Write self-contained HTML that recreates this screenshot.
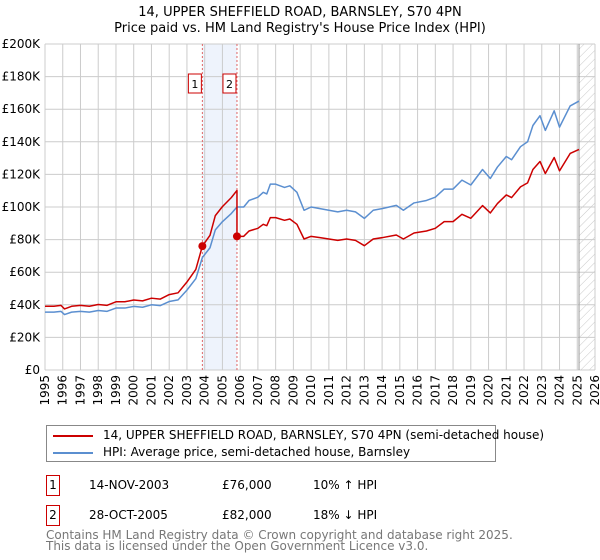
<!DOCTYPE html>
<html><head><meta charset="utf-8">
<style>
body{margin:0;background:#fff;font-family:"Liberation Sans","DejaVu Sans",sans-serif;}
#wrap{position:relative;width:600px;height:560px;overflow:hidden;}
.t{font-family:"DejaVu Sans","Liberation Sans",sans-serif;}
</style></head>
<body>
<div id="wrap">
<svg id="chart" width="600" height="560" xmlns="http://www.w3.org/2000/svg" font-family="DejaVu Sans, Liberation Sans, sans-serif">
<defs>
<pattern id="hatch" width="6" height="6" patternUnits="userSpaceOnUse" patternTransform="rotate(45)">
<line x1="0" y1="0" x2="0" y2="6" stroke="#bbb" stroke-width="0.8"/>
</pattern>
</defs>
<text x="300" y="16" text-anchor="middle" font-size="13" fill="#000">14, UPPER SHEFFIELD ROAD, BARNSLEY, S70 4PN</text>
<text x="300" y="32" text-anchor="middle" font-size="13" fill="#000">Price paid vs. HM Land Registry's House Price Index (HPI)</text>
<g id="grid"></g>
<g id="marks"></g>
<g id="axes"></g>
</svg>
<div style="position:absolute;left:46px;top:425px;width:448px;height:35px;border:1px solid #888;font-size:12px;" class="t">
 <div style="position:absolute;left:6px;top:2px;white-space:nowrap;"><span style="display:inline-block;width:40px;height:2px;background:#cc0000;vertical-align:middle;margin-right:10px;"></span>14, UPPER SHEFFIELD ROAD, BARNSLEY, S70 4PN (semi-detached house)</div>
 <div style="position:absolute;left:6px;top:19px;white-space:nowrap;"><span style="display:inline-block;width:40px;height:2px;background:#5b8fd0;vertical-align:middle;margin-right:10px;"></span>HPI: Average price, semi-detached house, Barnsley</div>
</div>
<div class="t" style="font-size:12px;">
 <div style="position:absolute;left:46px;top:475px;width:12px;height:19px;border:1px solid #cc0000;text-align:center;line-height:19px;">1</div>
 <div style="position:absolute;left:89px;top:478px;">14-NOV-2003</div>
 <div style="position:absolute;left:222px;top:478px;">£76,000</div>
 <div style="position:absolute;left:313px;top:478px;">10% ↑ HPI</div>
 <div style="position:absolute;left:46px;top:505px;width:12px;height:19px;border:1px solid #cc0000;text-align:center;line-height:19px;">2</div>
 <div style="position:absolute;left:89px;top:508px;">28-OCT-2005</div>
 <div style="position:absolute;left:222px;top:508px;">£82,000</div>
 <div style="position:absolute;left:313px;top:508px;">18% ↓ HPI</div>
 <div style="position:absolute;left:46px;top:530px;color:#777;line-height:11px;">Contains HM Land Registry data © Crown copyright and database right 2025.<br>This data is licensed under the Open Government Licence v3.0.</div>
</div>
</div>
<script>
const hpiYears=[1995,1995.5,1995.9,1996.1,1996.5,1997,1997.5,1998,1998.5,1999,1999.5,2000,2000.5,2001,2001.5,2002,2002.5,2003,2003.5,2003.87,2004.3,2004.6,2005,2005.5,2005.82,2006.2,2006.5,2007,2007.3,2007.5,2007.7,2008,2008.5,2008.8,2009.2,2009.6,2010,2010.5,2011,2011.5,2012,2012.5,2013,2013.5,2014,2014.8,2015.2,2015.8,2016.5,2017,2017.5,2018,2018.5,2019,2019.66,2020.1,2020.5,2021,2021.3,2021.8,2022.2,2022.5,2022.9,2023.2,2023.7,2024.0,2024.6,2025.1];
const hpiValues=[35.5,35.5,36,34,35.5,36,35.5,36.5,36,38,38,39,38.5,40,39.5,42,43,49,56,69,75,86,91,96,100,100,104,106,109,108,114,114,112,113,109,98,100,99,98,97,98,97,93,98,99,101,98,102.5,104,106,111,111,116.5,113.5,123,117.5,124.5,131,129,137,140,150,156,147,159,149,162,165];
const saleYears=[2003.87,2005.82];
const salePrices=[76,82];
const yTicks=[0,20,40,60,80,100,120,140,160,180,200];
const yTickLabels=["£0","£20K","£40K","£60K","£80K","£100K","£120K","£140K","£160K","£180K","£200K"];
const xTicks=[1995,1996,1997,1998,1999,2000,2001,2002,2003,2004,2005,2006,2007,2008,2009,2010,2011,2012,2013,2014,2015,2016,2017,2018,2019,2020,2021,2022,2023,2024,2025,2026];

const L=45,R=595,T=44,B=370,X0=1995,X1=2026,YMAX=200;
const xs=y=>L+(y-X0)/(X1-X0)*(R-L);
const ys=v=>B-v/YMAX*(B-T);
const NS="http://www.w3.org/2000/svg";
function mk(tag,attrs,parent){const e=document.createElementNS(NS,tag);for(const k in attrs)e.setAttribute(k,attrs[k]);parent.appendChild(e);return e;}
const grid=document.getElementById('grid'),marks=document.getElementById('marks'),axes=document.getElementById('axes');

// shaded band between sales
let band=mk('rect',{x:xs(saleYears[0]),y:T,width:xs(saleYears[1])-xs(saleYears[0]),height:B-T,fill:'#eef3fc'},grid);


// hatch future
const lastY=hpiYears[hpiYears.length-1];
let hat=mk('rect',{x:xs(lastY),y:T,width:R-xs(lastY),height:B-T,fill:'url(#hatch)'},grid);



yTicks.forEach((v,i)=>{
 let g=mk('line',{x1:L,x2:R,y1:ys(v),y2:ys(v),stroke:'#cccccc','stroke-width':1},grid);
 
 
 let t=mk('text',{x:L-5,y:ys(v)+4,'text-anchor':'end','font-size':12,fill:'#000'},axes);
 t.textContent=yTickLabels[i];
 
 
});
xTicks.forEach(y=>{
 let g=mk('line',{x1:xs(y),x2:xs(y),y1:T,y2:B,stroke:'#cccccc','stroke-width':1},grid);
 
 
 let t=mk('text',{x:0,y:0,'text-anchor':'end','font-size':12,fill:'#000',transform:`translate(${xs(y)+4},${B+5}) rotate(-90)`},axes);
 t.textContent=y;
 
 
});
let vl=mk('line',{x1:xs(lastY),x2:xs(lastY),y1:T,y2:B,stroke:'#999','stroke-width':1},grid);



// sale markers lines
saleYears.forEach((sy,i)=>{
 let l=mk('line',{x1:xs(sy),x2:xs(sy),y1:T,y2:B,stroke:'#e06666','stroke-width':1,'stroke-dasharray':'2,2'},marks);
 
 
 let bx=mk('rect',{x:xs(sy)-14,y:74,width:13,height:19,fill:'#fff',stroke:'#cc0000','stroke-width':1},marks);
 
 
 let t=mk('text',{x:xs(sy)-7.5,y:88,'text-anchor':'middle','font-size':11,fill:'#000'},marks);
 t.textContent=String(i+1);
 
 
});

function hpiAt(y){for(let i=1;i<hpiYears.length;i++){if(y<=hpiYears[i]){const f=(y-hpiYears[i-1])/(hpiYears[i]-hpiYears[i-1]);return hpiValues[i-1]+f*(hpiValues[i]-hpiValues[i-1]);}}return hpiValues[hpiValues.length-1];}
// property series: HPI indexed to each sale
const r1=salePrices[0]/hpiAt(saleYears[0]),r2=salePrices[1]/hpiAt(saleYears[1]);
let rp=[];
hpiYears.forEach((y,i)=>{
 if(y<saleYears[1]) rp.push([xs(y),ys(hpiValues[i]*r1)]);
 else { if(y===saleYears[1]) rp.push([xs(y),ys(hpiValues[i]*r1)]); rp.push([xs(y),ys(hpiValues[i]*r2)]); }
});
let hp=hpiYears.map((y,i)=>[xs(y),ys(hpiValues[i])]);
let ph=mk('polyline',{points:hp.map(p=>p.join(',')).join(' '),fill:'none',stroke:'#5b8fd0','stroke-width':1.5,'stroke-linejoin':'round'},marks);


let pr=mk('polyline',{points:rp.map(p=>p.join(',')).join(' '),fill:'none',stroke:'#cc0000','stroke-width':1.5,'stroke-linejoin':'round'},marks);


saleYears.forEach((sy,i)=>{
 let c=mk('circle',{cx:xs(sy),cy:ys(salePrices[i]),r:4,fill:'#cc0000'},marks);
 
 
});
</script>
</body></html>
